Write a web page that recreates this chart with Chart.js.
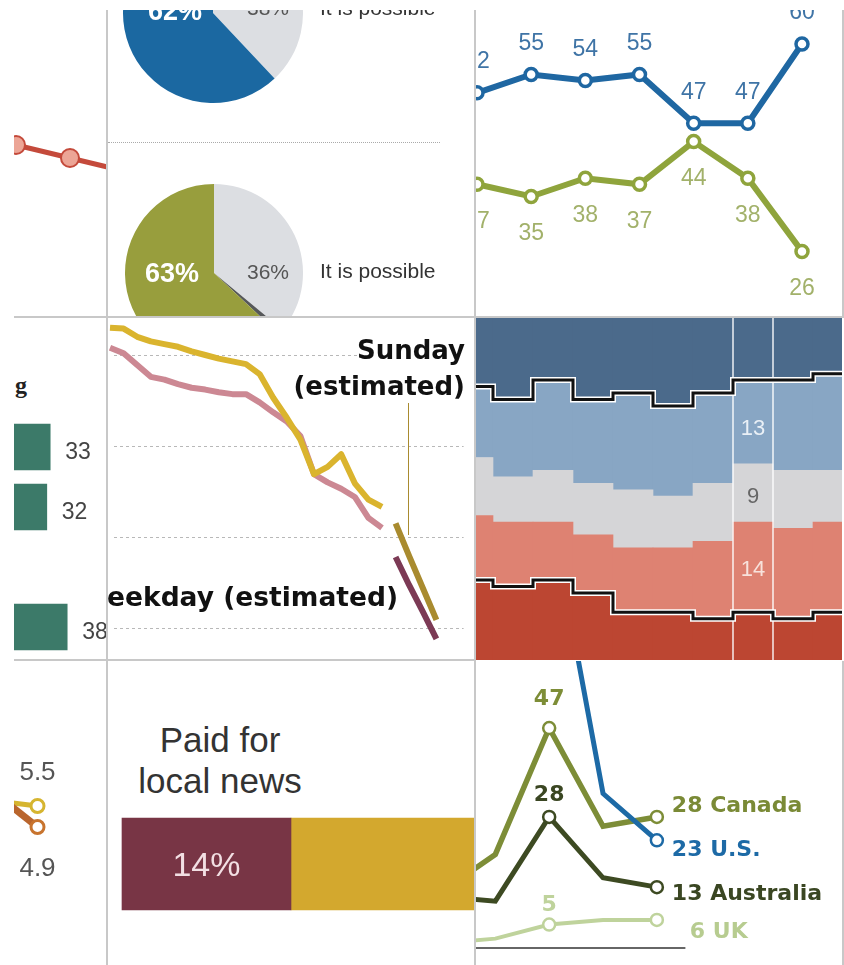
<!DOCTYPE html>
<html>
<head>
<meta charset="utf-8">
<title>Chart collage</title>
<script src="https://cdn.jsdelivr.net/npm/chart.js@4.4.1/dist/chart.umd.min.js"></script>
<style>
  html, body { margin: 0; padding: 0; background: #fff; }
  body { position: relative; width: 844px; height: 965px; overflow: hidden; }
  .cell { position: absolute; overflow: hidden; }
  .cell canvas { position: absolute; }
  .rule { position: absolute; background: #c8c8c8; }
  .txt { position: absolute; white-space: nowrap; }
</style>
</head>
<body>
<script>
// ---------- data ----------

// top left: tail of a red trend line
const redLabels = ["a", "b", "c"];
const redValues = [55, 42, 29];

// top middle: two pies
const pieLabels = ["It is possible", "Not possible", "No answer"];
const bluePie = [38, 62];
const olivePie = [36, 1, 63];

// top right: two trend lines
const waveLabels = ["w1", "w2", "w3", "w4", "w5", "w6", "w7"];
const blueSeries = [52, 55, 54, 55, 47, 47, 60];
const oliveSeries = [37, 35, 38, 37, 44, 38, 26];

// middle left: bars
const barCategories = ["r1", "r2", "", "r3"];
const barValues = [33, 32, null, 38];

// middle: newspaper circulation (millions)
const circYears = [1994, 1995, 1996, 1997, 1998, 1999, 2000, 2001, 2002, 2003, 2004,
                   2005, 2006, 2007, 2008, 2009, 2010, 2011, 2012, 2013, 2014];
const sundayCirc = [63.0, 62.9, 62.0, 61.5, 61.2, 60.9, 60.4, 60.0, 59.6, 59.3, 59.0,
                    57.9, 55.3, 53.1, 50.7, 46.9, 47.7, 49.1, 45.9, 44.1, 43.3];
const weekdayCirc = [60.8, 60.2, 58.9, 57.6, 57.3, 56.8, 56.4, 56.2, 55.9, 55.7, 55.7,
                     54.8, 53.7, 52.7, 51.1, 46.9, 46.0, 45.3, 44.4, 42.1, 41.0];
const estYears = [2015, 2016, 2017, 2018];
const sundayEst = [41.5, 37.9, 34.4, 30.9];
const weekdayEst = [37.8, 34.7, 31.8, 28.8];
const circGrid = [30, 40, 50, 60];

// middle right: stacked shares (%)
const shareCols = ["c0", "c1", "c2", "c3", "c4", "c5", "c6", "c7", "c8", "c9"];
const repShare     = [31, 30, 31, 29, 26, 26, 25, 26, 25, 26];
const leanRepShare = [10, 10,  9,  9, 10, 10, 12, 14, 14, 14];
const noLeanShare  = [ 9,  7,  8,  8,  9,  8,  9,  9,  9,  8];
const leanDemShare = [11, 12, 14, 13, 15, 14, 14, 13, 14, 15];
const demShare     = [39, 41, 38, 41, 40, 42, 40, 38, 38, 37];
const highlightCol = 7;

// bottom left: two line ends
const ratingLabels = ["prev", "last"];
const yellowRating = [5.7, 5.5];
const orangeRating = [6.2, 4.9];

// bottom middle: paid for local news
const paidLabel = "Paid for\nlocal news";
const paidShare = [14];
const notPaidShare = [86];

// bottom right: four countries
const countryYears = [2013, 2014, 2015, 2016, 2017];
const usShare = [90, 93, 95, 33, 23];
const canadaShare = [12, 20, 47, 26, 28];
const australiaShare = [11, 10, 28, 15, 13];
const ukShare = [1, 2, 5, 6, 6];

// ---------- helpers ----------

const SANS = '"Liberation Sans", Arial, sans-serif';
const BOLD = '"DejaVu Sans", sans-serif';

function cell(x, y, w, h) {
    const d = document.createElement("div");
    d.className = "cell";
    Object.assign(d.style, { left: x + "px", top: y + "px", width: w + "px", height: h + "px" });
    d._x = x; d._y = y; d._w = w;
    document.body.appendChild(d);
    return d;
}

function rule(x, y, w, h) {
    const d = document.createElement("div");
    d.className = "rule";
    Object.assign(d.style, { left: x + "px", top: y + "px", width: w + "px", height: h + "px" });
    document.body.appendChild(d);
}

// canvas whose chart area lands on the given page box
function area(parent, left, top, width, height, margin, extraRight = 0) {
    const cl = Math.floor(left - margin), ct = Math.floor(top - margin);
    const cw = Math.ceil(left + width + margin + extraRight) - cl;
    const ch = Math.ceil(top + height + margin) - ct;
    const c = document.createElement("canvas");
    c.width = cw; c.height = ch;
    c.style.left = (cl - parent._x) + "px";
    c.style.top = (ct - parent._y) + "px";
    c.style.width = cw + "px";
    c.style.height = ch + "px";
    parent.appendChild(c);
    const pl = left - cl, pt = top - ct;
    return { canvas: c, padding: { left: pl, top: pt, right: cw - pl - width, bottom: ch - pt - height } };
}

function label(parent, str, x, y, size, o = {}) {
    const d = document.createElement("div");
    d.className = "txt";
    d.textContent = str;
    d.style.fontSize = size + "px";
    d.style.lineHeight = size + "px";
    d.style.fontWeight = o.bold ? "bold" : "normal";
    d.style.fontFamily = o.family || SANS;
    d.style.color = o.color || "#333";
    if (o.bg) d.style.background = o.bg;
    d.style.top = (y - parent._y - size * 0.49) + "px";
    const align = o.align || "left";
    if (align === "left") {
        d.style.left = (x - parent._x) + "px";
    } else if (align === "right") {
        d.style.right = (parent._w - (x - parent._x)) + "px";
    } else {
        d.style.left = (x - parent._x) + "px";
        d.style.transform = "translateX(-50%)";
    }
    parent.appendChild(d);
    return d;
}

function options(padding, scales) {
    return {
        responsive: false,
        animation: false,
        devicePixelRatio: 1,
        events: [],
        layout: { padding },
        plugins: { legend: { display: false }, tooltip: { enabled: false }, title: { display: false } },
        scales
    };
}

function xy(xs, ys) {
    return xs.map((x, i) => ({ x, y: ys[i] }));
}

// text drawn next to chart elements
function valueLabels(specs) {
    return {
        id: "valueLabels",
        afterDatasetsDraw(chart) {
            const ctx = chart.ctx;
            ctx.save();
            specs.forEach(s => {
                const meta = chart.getDatasetMeta(s.dataset);
                const raw = chart.data.datasets[s.dataset].data;
                const idx = s.indices || raw.map((_, i) => i);
                idx.forEach(i => {
                    const el = meta.data[i];
                    let v = raw[i];
                    if (v == null || !el) return;
                    if (typeof v === "object") v = v.y;
                    let x = el.x, y = el.y;
                    if (s.at === "center") y = (el.y + el.base) / 2;
                    if (s.at === "centerX") x = (el.x + el.base) / 2;
                    ctx.font = (s.bold ? "bold " : "") + s.size + "px " + (s.family || SANS);
                    ctx.fillStyle = s.color;
                    ctx.textAlign = s.align || "center";
                    ctx.textBaseline = "alphabetic";
                    const txt = s.format ? s.format(v, i) : String(v);
                    ctx.fillText(txt, x + (s.dx || 0), y + (s.dy || 0) + s.size * 0.36);
                });
            });
            ctx.restore();
        }
    };
}

const hidden = extra => Object.assign({ display: false }, extra);

// ---------- cells ----------

const cA = cell(14, 10, 92, 306);
const cB = cell(108, 10, 366, 306);
const cC = cell(476, 10, 366, 306);
const cD = cell(14, 318, 92, 341);
const cE = cell(108, 318, 366, 341);
const cF = cell(476, 318, 366, 342);
const cG = cell(14, 661, 92, 304);
const cH = cell(108, 661, 366, 304);
const cI = cell(476, 661, 366, 304);

// top left
(() => {
    const a = area(cA, 16, 100, 108, 100, 20);
    new Chart(a.canvas, {
        type: "line",
        data: {
            labels: redLabels,
            datasets: [{
                data: redValues, borderColor: "#c44a3b", borderWidth: 5,
                pointRadius: 9, pointBorderWidth: 2, pointBackgroundColor: "#eca596",
                pointBorderColor: "#c44a3b", clip: false
            }]
        },
        options: options(a.padding, { x: hidden(), y: hidden({ min: 0, max: 100 }) })
    });
})();

// top middle pies
(() => {
    const a = area(cB, 123, -77, 180, 180, 0);
    new Chart(a.canvas, {
        type: "pie",
        data: { labels: pieLabels.slice(0, 2), datasets: [{ data: bluePie, backgroundColor: ["#dcdee2", "#1b68a1"], borderWidth: 0, hoverOffset: 0 }] },
        options: options(a.padding)
    });
    const b = area(cB, 125, 184, 178, 178, 0);
    new Chart(b.canvas, {
        type: "pie",
        data: { labels: pieLabels, datasets: [{ data: olivePie, backgroundColor: ["#dcdee2", "#56585a", "#989e3d"], borderWidth: 0, hoverOffset: 0 }] },
        options: options(b.padding)
    });
    label(cB, bluePie[1] + "%", 148, 11, 27, { bold: true, color: "#fff" });
    label(cB, bluePie[0] + "%", 247, 7.5, 21, { color: "#555" });
    label(cB, pieLabels[0], 320, 7.5, 21, { color: "#333" });
    label(cB, olivePie[2] + "%", 145, 273.5, 27, { bold: true, color: "#fff" });
    label(cB, olivePie[0] + "%", 247, 271, 21, { color: "#555" });
    label(cB, pieLabels[0], 320, 270, 21, { color: "#333" });
    const dots = document.createElement("div");
    Object.assign(dots.style, { position: "absolute", left: "0px", top: (142 - 10) + "px", width: "332px", height: "0px", borderTop: "1.5px dotted #aaa" });
    cB.appendChild(dots);
})();

// top right lines
(() => {
    const a = area(cC, 477, -17, 325, 305, 25);
    new Chart(a.canvas, {
        type: "line",
        data: {
            labels: waveLabels,
            datasets: [
                { data: blueSeries, borderColor: "#1f67a2", borderWidth: 6, pointRadius: 6, pointBorderWidth: 3.5,
                  pointBackgroundColor: "#fff", pointBorderColor: "#1f67a2", clip: false },
                { data: oliveSeries, borderColor: "#8fa43c", borderWidth: 6, pointRadius: 6, pointBorderWidth: 3.5,
                  pointBackgroundColor: "#fff", pointBorderColor: "#8fa43c", clip: false }
            ]
        },
        options: options(a.padding, { x: hidden(), y: hidden({ min: 20, max: 70 }) }),
        plugins: [valueLabels([
            { dataset: 0, dy: -33, size: 23, color: "#3f74a6" },
            { dataset: 1, dy: 35.5, size: 23, color: "#a2b16a" }
        ])]
    });
})();

// middle left bars
(() => {
    const a = area(cD, -62, 417, 136, 240, 0, 60);
    new Chart(a.canvas, {
        type: "bar",
        data: { labels: barCategories, datasets: [{ data: barValues, backgroundColor: "#3c7a69", barThickness: 46, borderWidth: 0 }] },
        options: Object.assign(options(a.padding, { x: hidden({ min: 0, max: 40 }), y: hidden() }), { indexAxis: "y" }),
        plugins: [valueLabels([{ dataset: 0, dx: 15, dy: 4, size: 23, color: "#444", align: "left" }])]
    });
    label(cD, "g", 27, 385, 24, { bold: true, family: '"Liberation Serif", serif', color: "#222", align: "right" });
})();

// middle: circulation
(() => {
    const a = area(cE, 110, 309.5, 353.6, 364, 12);
    const grid = {
        id: "dashGrid",
        beforeDatasetsDraw(chart) {
            const { ctx, chartArea } = chart;
            const y = chart.scales.y;
            ctx.save();
            ctx.strokeStyle = "#b8b8b8";
            ctx.lineWidth = 1;
            ctx.setLineDash([3, 3]);
            circGrid.forEach(v => {
                const py = Math.round(y.getPixelForValue(v)) + 0.5;
                ctx.beginPath();
                ctx.moveTo(chartArea.left + 4, py);
                ctx.lineTo(chartArea.right, py);
                ctx.stroke();
            });
            ctx.restore();
        }
    };
    const line = (data, color, width) => ({
        data, borderColor: color, borderWidth: width, pointRadius: 0, clip: false,
        borderJoinStyle: "round", tension: 0
    });
    new Chart(a.canvas, {
        type: "line",
        data: {
            datasets: [
                line(xy(circYears, sundayCirc), "#dab42e", 6),
                line(xy(circYears, weekdayCirc), "#cc8893", 6),
                line(xy(estYears, sundayEst), "#a98b2f", 6),
                line(xy(estYears, weekdayEst), "#7c3a55", 6)
            ]
        },
        options: options(a.padding, {
            x: hidden({ type: "linear", min: 1994, max: 2020 }),
            y: hidden({ min: 25, max: 65 })
        }),
        plugins: [grid]
    });
    label(cE, "Sunday", 465, 349.5, 26, { bold: true, family: BOLD, color: "#111", align: "right", bg: "#fff" });
    label(cE, "(estimated)", 465, 385.5, 26, { bold: true, family: BOLD, color: "#111", align: "right" });
    label(cE, "Weekday (estimated)", 398, 597, 26.5, { bold: true, family: BOLD, color: "#111", align: "right" });
    const lead = document.createElement("div");
    Object.assign(lead.style, { position: "absolute", left: (408 - 108) + "px", top: (403 - 318) + "px", width: "1px", height: "132px", background: "#a98b2f" });
    cE.appendChild(lead);
})();

// middle right: stacked shares
(() => {
    const a = area(cF, 453, 135, 400, 645, 0);
    const steps = {
        id: "steps",
        afterDatasetsDraw(chart) {
            const ctx = chart.ctx;
            const ca = chart.chartArea;
            ctx.save();
            const hb = chart.getDatasetMeta(0).data[highlightCol];
            ctx.strokeStyle = "rgba(255,255,255,0.9)";
            ctx.lineWidth = 1.5;
            [hb.x - hb.width / 2, hb.x + hb.width / 2].forEach(x => {
                ctx.beginPath();
                ctx.moveTo(x, ca.top);
                ctx.lineTo(x, ca.bottom);
                ctx.stroke();
            });
            [0, 3].forEach(ds => {
                const bars = chart.getDatasetMeta(ds).data;
                ctx.beginPath();
                bars.forEach((b, i) => {
                    const l = b.x - b.width / 2, r = b.x + b.width / 2;
                    if (i === 0) ctx.moveTo(l, b.y); else ctx.lineTo(l, b.y);
                    ctx.lineTo(r, b.y);
                });
                ctx.lineJoin = "miter";
                ctx.strokeStyle = "#fff"; ctx.lineWidth = 6; ctx.stroke();
                ctx.strokeStyle = "#111"; ctx.lineWidth = 3; ctx.stroke();
            });
            ctx.restore();
        }
    };
    const band = (data, color) => ({ data, backgroundColor: color, borderWidth: 0, categoryPercentage: 1, barPercentage: 1 });
    new Chart(a.canvas, {
        type: "bar",
        data: {
            labels: shareCols,
            datasets: [
                band(repShare, "#bc4632"),
                band(leanRepShare, "#de8272"),
                band(noLeanShare, "#d5d5d7"),
                band(leanDemShare, "#88a6c4"),
                band(demShare, "#4b6a8b")
            ]
        },
        options: options(a.padding, {
            x: hidden({ stacked: true }),
            y: hidden({ stacked: true, min: 0, max: 100 })
        }),
        plugins: [steps, valueLabels([
            { dataset: 3, indices: [highlightCol], at: "center", dy: 5, size: 22, color: "#eaf0f6" },
            { dataset: 2, indices: [highlightCol], at: "center", dy: 2, size: 22, color: "#666" },
            { dataset: 1, indices: [highlightCol], at: "center", dy: 1, size: 22, color: "#f8e2dc" }
        ])]
    });
})();

// bottom left
(() => {
    const a = area(cG, -20, 753.5, 57.5, 105, 45);
    new Chart(a.canvas, {
        type: "line",
        data: {
            labels: ratingLabels,
            datasets: [
                { data: yellowRating, order: 1, borderColor: "#d6b530", borderWidth: 5, pointRadius: [0, 6.5], pointBorderWidth: 3,
                  pointBackgroundColor: "#fff", pointBorderColor: "#d6b530", clip: false },
                { data: orangeRating, order: 0, borderColor: "#b9652d", borderWidth: 7, pointRadius: [0, 6.5], pointBorderWidth: 3,
                  pointBackgroundColor: "#fff", pointBorderColor: "#c8742e", clip: false }
            ]
        },
        options: options(a.padding, { x: hidden(), y: hidden({ min: 4, max: 7 }) }),
        plugins: [valueLabels([
            { dataset: 0, indices: [1], dy: -35, size: 26, color: "#555", format: v => v.toFixed(1) },
            { dataset: 1, indices: [1], dy: 40, size: 26, color: "#555", format: v => v.toFixed(1) }
        ])]
    });
})();

// bottom middle
(() => {
    const a = area(cH, 122, 814, 482.8, 100, 5);
    new Chart(a.canvas, {
        type: "bar",
        data: {
            labels: ["Paid"],
            datasets: [
                { data: paidShare, backgroundColor: "#783545", barThickness: 92, borderWidth: 0, clip: false },
                { data: notPaidShare, backgroundColor: "#d3a82e", barThickness: 92, borderWidth: 0, clip: false }
            ]
        },
        options: Object.assign(options(a.padding, {
            x: hidden({ stacked: true, min: 0, max: 40 }),
            y: hidden({ stacked: true })
        }), { indexAxis: "y" }),
        plugins: [valueLabels([{ dataset: 0, at: "centerX", dy: 0, size: 34, color: "#f2dfe3", format: v => v + "%" }])]
    });
    const lines = paidLabel.split("\n");
    label(cH, lines[0], 220, 739, 35, { color: "#333", align: "center" });
    label(cH, lines[1], 220, 780.5, 35, { color: "#333", align: "center" });
})();

// bottom right
(() => {
    const a = area(cI, 441.5, 643.8, 243.9, 304.2, 30, 160);
    const baseline = {
        id: "baseline",
        beforeDatasetsDraw(chart) {
            const { ctx, chartArea } = chart;
            const y = Math.round(chart.scales.y.getPixelForValue(0));
            ctx.save();
            ctx.fillStyle = "#666";
            ctx.fillRect(chartArea.left, y - 1, chartArea.right - chartArea.left, 2);
            ctx.restore();
        }
    };
    const series = (vals, color, width, radii) => ({
        data: xy(countryYears, vals), borderColor: color, borderWidth: width,
        pointRadius: radii, pointBorderWidth: 2.5, pointBackgroundColor: "#fff",
        pointBorderColor: color, clip: false
    });
    new Chart(a.canvas, {
        type: "line",
        data: {
            datasets: [
                series(usShare, "#1d6aa6", 5, [0, 0, 0, 0, 6]),
                series(canadaShare, "#7d8d37", 5.5, [0, 0, 6, 0, 6]),
                series(australiaShare, "#3d4a22", 5, [0, 0, 6, 0, 6]),
                series(ukShare, "#bfd39c", 4, [0, 0, 6, 0, 6])
            ]
        },
        options: options(a.padding, {
            x: hidden({ type: "linear", min: 2013, max: 2017.53 }),
            y: hidden({ min: 0, max: 65 })
        }),
        plugins: [baseline, valueLabels([
            { dataset: 1, indices: [2], dy: -31, size: 22, bold: true, family: BOLD, color: "#7d8d37" },
            { dataset: 2, indices: [2], dy: -23.5, size: 22, bold: true, family: BOLD, color: "#3a4622" },
            { dataset: 3, indices: [2], dy: -22, size: 22, bold: true, family: BOLD, color: "#bfd39c" },
            { dataset: 1, indices: [4], dx: 15, dy: -13, size: 22, bold: true, family: BOLD, color: "#7a8a36", align: "left", format: v => v + " Canada" },
            { dataset: 0, indices: [4], dx: 15, dy: 8, size: 22, bold: true, family: BOLD, color: "#1d6aa6", align: "left", format: v => v + " U.S." },
            { dataset: 2, indices: [4], dx: 15, dy: 5, size: 22, bold: true, family: BOLD, color: "#3a4622", align: "left", format: v => v + " Australia" },
            { dataset: 3, indices: [4], dx: 33, dy: 10.5, size: 22, bold: true, family: BOLD, color: "#b7cc90", align: "left", format: v => v + " UK" }
        ])]
    });
})();

// ---------- panel rules ----------
rule(106, 10, 2, 955);
rule(474, 10, 2, 955);
rule(842, 10, 2, 307);
rule(842, 661, 2, 304);
rule(14, 316, 830, 2);
rule(14, 659, 462, 2);
</script>
</body>
</html>
